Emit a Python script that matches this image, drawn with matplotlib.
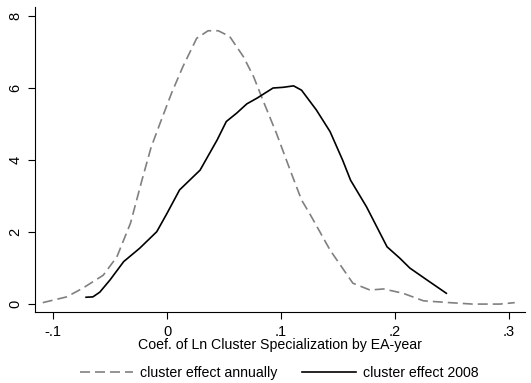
import numpy as np
import matplotlib
matplotlib.use("Agg")
import matplotlib.pyplot as plt

plt.rcParams['font.family'] = ['Liberation Sans', 'DejaVu Sans']

# kernel density, cluster effect annually
x_annual = [-0.109, -0.088, -0.074, -0.056, -0.044, -0.032, -0.022, -0.014, -0.006, 0.004,
            0.014, 0.026, 0.036, 0.045, 0.055, 0.067, 0.076, 0.084, 0.096, 0.108,
            0.118, 0.125, 0.143, 0.163, 0.178, 0.190, 0.207, 0.225, 0.248, 0.268,
            0.292, 0.305]
y_annual = [0.04, 0.20, 0.44, 0.80, 1.31, 2.25, 3.44, 4.35, 5.03, 5.86,
            6.60, 7.38, 7.59, 7.59, 7.43, 6.87, 6.31, 5.67, 4.74, 3.72,
            2.89, 2.52, 1.50, 0.58, 0.39, 0.42, 0.30, 0.09, 0.04, 0.00,
            0.00, 0.04]

# cluster effect 2008
x_2008 = [-0.071, -0.065, -0.059, -0.050, -0.038, -0.024, -0.009, 0.000, 0.011, 0.029,
          0.044, 0.052, 0.061, 0.070, 0.079, 0.093, 0.102, 0.111, 0.118, 0.131,
          0.143, 0.154, 0.161, 0.175, 0.193, 0.204, 0.213, 0.228, 0.245]
y_2008 = [0.19, 0.20, 0.33, 0.67, 1.18, 1.55, 2.01, 2.52, 3.17, 3.72,
          4.56, 5.07, 5.30, 5.56, 5.72, 6.00, 6.02, 6.06, 5.94, 5.39,
          4.79, 4.00, 3.44, 2.70, 1.59, 1.28, 1.00, 0.67, 0.30]

xticks = [-0.1, 0, 0.1, 0.2, 0.3]
xticklabels = ['-.1', '0', '.1', '.2', '.3']
yticks = [0, 2, 4, 6, 8]

fig = plt.figure(figsize=(5.31, 3.83), dpi=100)
ax = fig.add_axes([35/531, 1 - 312/383, 490/531, 305/383])

ax.plot(x_annual, y_annual, color='#808080', lw=1.2, ls=(0, (6, 3)),
        label='cluster effect annually')
ax.plot(x_2008, y_2008, color='black', lw=1.2, label='cluster effect 2008')

ax.set_xlim(-0.1158, 0.314)
ax.set_ylim(-0.22, 8.25)
ax.set_xticks(xticks)
ax.set_xticklabels(xticklabels)
ax.set_yticks(yticks)
ax.set_yticklabels([str(v) for v in yticks], rotation=90, va='center')
ax.tick_params(direction='out', length=5, width=0.8, labelsize=10.5, pad=4)
for s in ['top', 'right']:
    ax.spines[s].set_visible(False)
ax.set_xlabel('Coef. of Ln Cluster Specialization by EA-year', fontsize=10.2, labelpad=0)

fig.legend(loc='center', bbox_to_anchor=(279/531, 10/383), ncol=2, frameon=False,
           fontsize=10.2, handlelength=3.8, columnspacing=1.7, handletextpad=0.5,
           borderpad=0, borderaxespad=0)

fig.savefig('out.png', dpi=100)
